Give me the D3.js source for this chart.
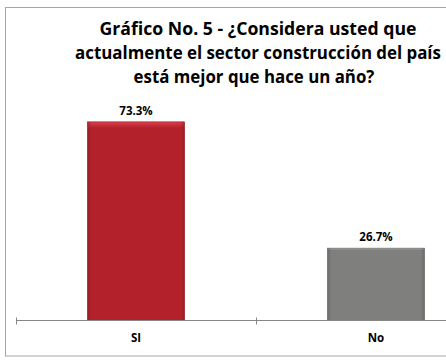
<!DOCTYPE html>
<html>
<head>
<meta charset="utf-8">
<script src="https://cdn.jsdelivr.net/npm/d3@7"></script>
<style>
  html, body { margin: 0; padding: 0; background: #fff; }
  svg { display: block; font-family: "Open Sans", Lato, sans-serif; }
</style>
</head>
<body>
<div id="chart"></div>
<script>
const categories = ["SI", "No"];
const values = [73.3, 26.7];
const valueLabels = ["73.3%", "26.7%"];
const titleLines = [
  "Gráfico No. 5 - ¿Considera usted que",
  "actualmente el sector construcción del país",
  "está mejor que hace un año?"
];

const width = 446;
const height = 362;

const barColors = {
  SI: { base: "#b3222b", light: "#d9404a", dark: "#8e1a21" },
  No: { base: "#7f7f7d", light: "#a8a8a6", dark: "#606060" }
};

const svg = d3.select("#chart")
  .append("svg")
  .attr("width", width)
  .attr("height", height);

const defs = svg.append("defs");

categories.forEach(cat => {
  const c = barColors[cat];
  const grad = defs.append("linearGradient")
    .attr("id", `grad-${cat}`)
    .attr("x1", 0).attr("y1", 0).attr("x2", 0).attr("y2", 1);
  grad.append("stop").attr("offset", "0%").attr("stop-color", c.light);
  grad.append("stop").attr("offset", "3%").attr("stop-color", c.base);
  grad.append("stop").attr("offset", "100%").attr("stop-color", c.base);

  const side = defs.append("linearGradient")
    .attr("id", `side-${cat}`)
    .attr("x1", 0).attr("y1", 0).attr("x2", 1).attr("y2", 0);
  side.append("stop").attr("offset", "0%").attr("stop-color", c.dark).attr("stop-opacity", 0.6);
  side.append("stop").attr("offset", "4%").attr("stop-color", c.dark).attr("stop-opacity", 0);
  side.append("stop").attr("offset", "96%").attr("stop-color", c.dark).attr("stop-opacity", 0);
  side.append("stop").attr("offset", "100%").attr("stop-color", c.dark).attr("stop-opacity", 0.6);
});

// chart frame
svg.append("rect")
  .attr("x", 5.5)
  .attr("y", 7.5)
  .attr("width", 460)
  .attr("height", 348.5)
  .attr("fill", "none")
  .attr("stroke", "#a6a6a6")
  .attr("stroke-width", 1);

// title: narrow each line horizontally to the width it has in the picture
const titleBaselines = [35, 59, 83];
const titleCenters = [258, 258, 254];
const titleWidths = [317, 366, 241];

svg.append("g")
  .selectAll("text")
  .data(titleLines)
  .join("text")
  .attr("text-anchor", "middle")
  .attr("font-size", 18)
  .attr("font-weight", "bold")
  .attr("fill", "#000")
  .text(d => d)
  .each(function(d, i) {
    const natural = this.getComputedTextLength();
    const k = Math.min(1, titleWidths[i] / natural);
    d3.select(this).attr("transform",
      `translate(${titleCenters[i]},${titleBaselines[i]}) scale(${k},1)`);
  });

const x = d3.scaleBand()
  .domain(categories)
  .range([16, 496])
  .paddingInner(0.596)
  .paddingOuter(0.298);

const y = d3.scaleLinear()
  .domain([0, 80])
  .range([320.5, 103.7]);

// bars
const bars = svg.append("g");

bars.selectAll("rect.bar")
  .data(categories)
  .join("rect")
  .attr("class", "bar")
  .attr("x", d => x(d))
  .attr("y", (d, i) => y(values[i]))
  .attr("width", x.bandwidth())
  .attr("height", (d, i) => y(0) - y(values[i]))
  .attr("fill", d => `url(#grad-${d})`)
  .attr("stroke", d => barColors[d].dark)
  .attr("stroke-width", 0.6);

bars.selectAll("rect.side")
  .data(categories)
  .join("rect")
  .attr("class", "side")
  .attr("x", d => x(d))
  .attr("y", (d, i) => y(values[i]))
  .attr("width", x.bandwidth())
  .attr("height", (d, i) => y(0) - y(values[i]))
  .attr("fill", d => `url(#side-${d})`);

// value labels
svg.append("g")
  .selectAll("text")
  .data(categories)
  .join("text")
  .attr("x", d => x(d) + x.bandwidth() / 2)
  .attr("y", (d, i) => y(values[i]) - 7)
  .attr("text-anchor", "middle")
  .attr("font-size", 11.5)
  .attr("font-weight", "bold")
  .attr("fill", "#000")
  .text((d, i) => valueLabels[i]);

// x axis
const axis = svg.append("g")
  .attr("transform", `translate(0,${y(0)})`)
  .call(d3.axisBottom(x).tickSize(0).tickPadding(13));

axis.select(".domain")
  .attr("stroke", "#868686")
  .attr("d", "M16,0H496");

axis.selectAll(".tick text")
  .attr("font-family", "'Open Sans', Lato, sans-serif")
  .attr("font-size", 11.5)
  .attr("font-weight", "bold")
  .attr("fill", "#000");

// category boundary ticks
const boundaries = [16, x.step() + 16, 2 * x.step() + 16];
axis.append("g")
  .selectAll("line")
  .data(boundaries)
  .join("line")
  .attr("x1", d => d + 0.5)
  .attr("x2", d => d + 0.5)
  .attr("y1", -3)
  .attr("y2", 4)
  .attr("stroke", "#868686");
</script>
</body>
</html>
